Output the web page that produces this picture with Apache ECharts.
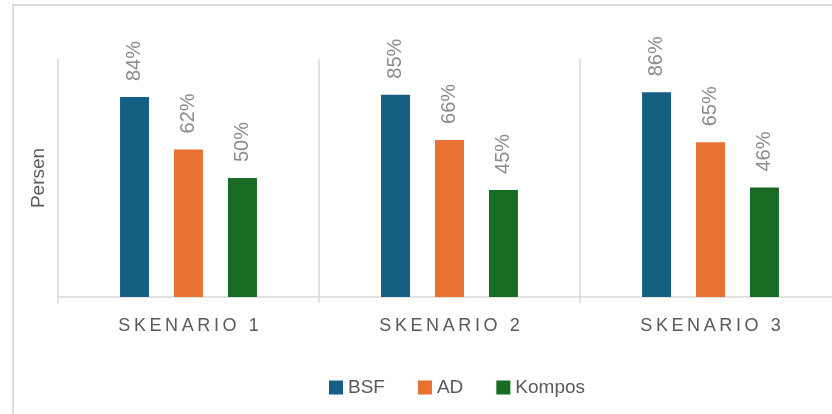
<!DOCTYPE html>
<html>
<head>
<meta charset="utf-8">
<script src="https://cdn.jsdelivr.net/npm/echarts@6/dist/echarts.min.js"></script>
<style>
  html, body { margin: 0; padding: 0; background: #fff; }
  #main { width: 832px; height: 414px; }
</style>
</head>
<body>
<div id="main"></div>
<script>
var categories = ["SKENARIO 1", "SKENARIO 2", "SKENARIO 3"];
var bsf = [0.84, 0.85, 0.86];
var ad = [0.62, 0.66, 0.65];
var kompos = [0.50, 0.45, 0.46];

var font = "'Liberation Sans', Arial, sans-serif";
var lineColor = "#d9d9d9";

var chart = echarts.init(document.getElementById("main"));

// label rotated, sitting above the bar
var barLabel = {
    show: true,
    position: "top",
    rotate: 90,
    align: "left",
    verticalAlign: "middle",
    distance: 16,
    color: "#8c8c8c",
    fontSize: 20,
    fontFamily: font,
    formatter: function (p) {
        return Math.round(p.value * 100) + "%";
    }
};

function makeSeries(name, data, color) {
    return {
        name: name,
        type: "bar",
        data: data,
        barWidth: 29,
        barGap: "86%",
        itemStyle: { color: color },
        label: barLabel
    };
}

var option = {
    animation: false,
    textStyle: { fontFamily: font },
    graphic: [{
        type: "rect",
        shape: { x: 13, y: 5, width: 900, height: 500 },
        style: { fill: "none", stroke: "#dcdcdc", lineWidth: 2 },
        silent: true
    }],
    grid: {
        left: 58,
        top: 59,
        bottom: 117,
        width: 783,
        outerBoundsMode: "none"
    },
    legend: {
        left: 324,
        top: 373,
        itemWidth: 14,
        itemHeight: 14,
        itemGap: 33,
        icon: "rect",
        textStyle: { color: "#595959", fontSize: 19, fontFamily: font },
        data: ["BSF", "AD", "Kompos"]
    },
    xAxis: {
        type: "category",
        data: categories,
        axisLine: { lineStyle: { color: lineColor, width: 1.5 } },
        axisTick: { show: true, length: 6, interval: 0, lineStyle: { color: lineColor, width: 1.5 } },
        splitLine: { show: true, interval: 0, lineStyle: { color: lineColor, width: 1.5 } },
        axisLabel: {
            margin: 20,
            color: "#595959",
            fontSize: 18,
            fontFamily: font,
            formatter: function (v) {
                return v.split("").join("\u2009");
            }
        }
    },
    yAxis: {
        type: "value",
        min: 0,
        max: 1,
        axisLabel: { show: false },
        axisLine: { show: false },
        axisTick: { show: false },
        splitLine: { show: false },
        name: "Persen",
        nameLocation: "middle",
        nameGap: 10,
        nameTextStyle: { color: "#595959", fontSize: 19, fontFamily: font }
    },
    series: [
        makeSeries("BSF", bsf, "#156082"),
        makeSeries("AD", ad, "#e97132"),
        makeSeries("Kompos", kompos, "#196b24")
    ]
};

chart.setOption(option);
</script>
</body>
</html>
